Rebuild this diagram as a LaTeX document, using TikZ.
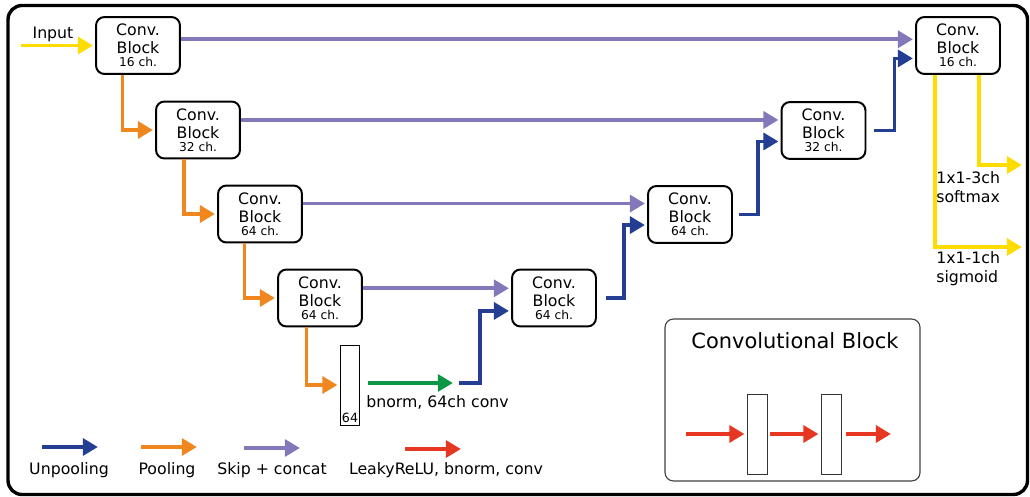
\documentclass[tikz,border=0pt]{standalone}
\usepackage{fontspec}
\setmainfont{DejaVu Sans}
\usetikzlibrary{arrows.meta}
\usetikzlibrary{positioning}

\definecolor{unpoolblue}{RGB}{36,62,148}
\definecolor{poolorange}{RGB}{240,135,30}
\definecolor{skippurple}{RGB}{132,120,186}
\definecolor{bngreen}{RGB}{12,150,70}
\definecolor{convred}{RGB}{230,55,35}
\definecolor{outyellow}{RGB}{255,220,0}

\newcommand{\convtext}[1]{Conv.\\Block\\[-3.8pt]{\fontsize{8.7}{9}\selectfont #1 ch.}}

\tikzset{
  every node/.style={font=\fontsize{11.2}{13.5}\selectfont},
  convblock/.style={draw, line width=1.4pt, rounded corners=6pt, fill=white,
    minimum width=59.7pt, minimum height=40.5pt, inner sep=0pt, align=center,
    font=\fontsize{11.2}{12.8}\selectfont},
  layerbox/.style={draw, line width=0.7pt, minimum width=14.2pt, minimum height=56.9pt, inner sep=0pt},
  flow/.style={line width=2.6pt, shorten >=1.5pt, -{Triangle[length=10.7pt,width=12pt]}},
  unpool/.style={flow, draw=unpoolblue, color=unpoolblue},
  pool/.style={flow, draw=poolorange, color=poolorange},
  skip/.style={flow, draw=skippurple, color=skippurple},
  bnflow/.style={flow, draw=bngreen, color=bngreen},
  conv/.style={flow, draw=convred, color=convred},
  outflow/.style={flow, draw=outyellow, color=outyellow},
}

\begin{document}
\begin{tikzpicture}[x=0.025cm,y=-0.025cm]
\useasboundingbox (0,0) rectangle (1030,497);
\draw[line width=2.4pt, rounded corners=10pt] (8,5.5) rectangle (1027.5,494.5);

% encoder
\node[convblock] (e1) at (138,45.5) {\convtext{16}};
\node[convblock] (e2) at (198,130) {\convtext{32}};
\node[convblock] (e3) at (260,214) {\convtext{64}};
\node[convblock] (e4) at (320,298) {\convtext{64}};

% decoder
\node[convblock] (d1) at (958,45.5) {\convtext{16}};
\node[convblock] (d2) at (823.5,130.5) {\convtext{32}};
\node[convblock] (d3) at (690,214.5) {\convtext{64}};
\node[convblock] (d4) at (554,298) {\convtext{64}};

% bottleneck
\node[layerbox] (mid) at (350,385) {};
\node[font=\fontsize{9}{10}\selectfont, anchor=south, inner sep=1.5pt] (midlabel) at (mid.south) {64};

% input
\coordinate (in) at (21,45.5);
\node[anchor=base] (inlabel) at (53,39) {Input};
\draw[outflow] (in) -- (e1.west);

% pooling
\draw[pool] ([xshift=-11pt]e1.south) |- (e2.west);
\draw[pool] ([xshift=-10pt]e2.south) |- (e3.west);
\draw[pool] ([xshift=-11pt]e3.south) |- (e4.west);
\draw[pool] ([xshift=-9.5pt]e4.south) |- (mid.west);

% skip connections
\coordinate (s1) at ([yshift=4.4pt]d1.west);
\coordinate (s2) at ([yshift=7.5pt]d2.west);
\coordinate (s3) at ([yshift=7.8pt]d3.west);
\coordinate (s4) at ([yshift=6.9pt]d4.west);
\draw[skip] (e1.east |- s1) -- (s1);
\draw[skip] (e2.east |- s2) -- (s2);
\draw[skip] (e3.east |- s3) -- (s3);
\draw[skip] (e4.east |- s4) -- (s4);

% bottleneck conv
\coordinate (gend) at (455,383);
\draw[bnflow] ([xshift=5pt]mid.east |- gend) -- (gend);
\node[anchor=base west, inner sep=0pt] (bnlabel) at (366,407) {bnorm, 64ch conv};

% unpooling
\coordinate (b1) at ([yshift=-9.2pt]d1.west);
\coordinate (b2) at ([yshift=-7.8pt]d2.west);
\coordinate (b3) at ([yshift=-7.5pt]d3.west);
\coordinate (b4) at ([yshift=-9.2pt]d4.west);
\draw[unpool] ([xshift=3pt]gend) -- ++(21,0) |- (b4);
\draw[unpool] ([xshift=6.4pt]d4.east) -- ++(18,0) |- (b3);
\draw[unpool] ([xshift=4.3pt]d3.east) -- ++(19,0) |- (b2);
\draw[unpool] ([xshift=5.7pt]d2.east) -- ++(20,0) |- (b1);

% outputs
\coordinate (o1) at (1024,165);
\coordinate (o2) at (1024,247);
\draw[outflow] ([xshift=15pt]d1.south) |- (o1);
\draw[outflow] ([xshift=-16.4pt]d1.south) |- (o2);
\node[anchor=north west, align=left, inner sep=0pt] (softlabel) at (936,171) {1x1-3ch\\softmax};
\node[anchor=north west, align=left, inner sep=0pt] (sigmlabel) at (936,251) {1x1-1ch\\sigmoid};

% legend
\coordinate (lu0) at (42,447);  \coordinate (lu1) at (100,447);
\coordinate (lp0) at (141,447); \coordinate (lp1) at (199,447);
\coordinate (ls0) at (244,448); \coordinate (ls1) at (302,448);
\coordinate (lc0) at (405,449); \coordinate (lc1) at (463,449);
\draw[unpool] (lu0) -- (lu1);
\draw[pool] (lp0) -- (lp1);
\draw[skip] (ls0) -- (ls1);
\draw[conv] (lc0) -- (lc1);
\node[anchor=base] (lgunpool) at (69,474) {Unpooling};
\node[anchor=base] (lgpool) at (167,474) {Pooling};
\node[anchor=base] (lgskip) at (272,474) {Skip + concat};
\node[anchor=base] (lgconv) at (446,474) {LeakyReLU, bnorm, conv};

% convolutional block inset
\draw[black!75, line width=0.8pt, rounded corners=6pt] (665,319) rectangle (920,481);
\node[font=\fontsize{14.9}{17}\selectfont] (cbtitle) at (795,341) {Convolutional Block};
\node[layerbox, draw=black!80] (cb1) at (757,434) {};
\node[layerbox, draw=black!80] (cb2) at (831,434) {};
\coordinate (cin) at (686,434);
\coordinate (cout) at (893,434);
\draw[conv] (cin) -- (cb1.west);
\draw[conv] ([xshift=1.5pt]cb1.east) -- (cb2.west);
\draw[conv] ([xshift=3pt]cb2.east) -- (cout);

\end{tikzpicture}
\end{document}
